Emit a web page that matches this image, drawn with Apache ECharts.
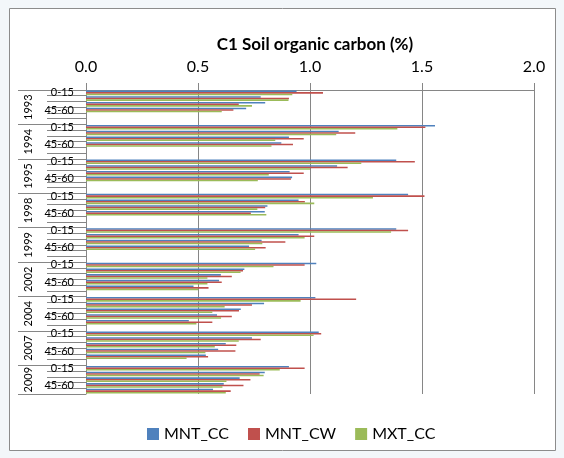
<!DOCTYPE html>
<html>
<head>
<meta charset="utf-8">
<script src="https://cdn.jsdelivr.net/npm/echarts@6/dist/echarts.min.js"></script>
<style>
  html, body { margin: 0; padding: 0; background: #f3f7fa; }
  #chart { width: 564px; height: 458px; }
</style>
</head>
<body>
<div id="chart"></div>
<script>
// Sampling years and soil depth layers (cm)
const years = ['1993', '1994', '1995', '1998', '1999', '2002', '2004', '2007', '2009'];
const depths = ['0-15', '15-30', '30-45', '45-60', '60-75'];

// Soil organic carbon (%) per year, one value per depth layer
const mntCC = [
  [0.94, 0.78, 0.80, 0.715, null],
  [1.558, 1.128, 0.906, 0.872, null],
  [1.385, 1.121, 0.909, 0.92, null],
  [1.438, 0.949, 0.81, 0.798, null],
  [1.385, 0.949, 0.784, 0.728, null],
  [1.028, 0.707, 0.602, 0.594, 0.48],
  [1.024, 0.795, 0.691, 0.585, 0.459],
  [1.039, 0.741, 0.624, 0.59, 0.535],
  [0.906, 0.798, 0.686, 0.615, 0.567]
];
const mntCW = [
  [1.058, 0.906, 0.682, 0.658, null],
  [1.515, 1.202, 0.972, 0.924, null],
  [1.468, 1.168, 0.972, 0.915, null],
  [1.511, 0.977, 0.80, 0.736, null],
  [1.438, 1.019, 0.89, 0.802, null],
  [0.976, 0.701, 0.651, 0.606, 0.547],
  [1.206, 0.741, 0.683, 0.651, 0.564],
  [1.05, 0.78, 0.671, 0.667, 0.545],
  [0.976, 0.775, 0.734, 0.703, 0.646]
];
const mxtCC = [
  [0.921, 0.904, 0.741, 0.606, null],
  [1.39, 1.117, 0.845, 0.828, null],
  [1.229, 1.0, 0.816, 0.767, null],
  [1.281, 1.019, 0.765, 0.805, null],
  [1.362, 0.976, 0.787, 0.755, null],
  [0.837, 0.69, 0.542, 0.542, 0.501],
  [0.958, 0.619, 0.564, 0.603, 0.493],
  [1.016, 0.682, 0.575, 0.533, 0.449],
  [0.865, 0.793, 0.627, 0.609, 0.624]
];
const xTicks = [0, 0.5, 1.0, 1.5, 2.0];

const seriesNames = ['MNT_CC', 'MNT_CW', 'MXT_CC'];
const seriesColors = ['#4F81BD', '#C0504D', '#9BBB59'];

// Flatten year/depth into one category list, with a blank spacer row between years
const categories = [];
const groupStarts = [];
const groupSizes = [];
years.forEach(function (y, i) {
  groupStarts.push(categories.length);
  depths.forEach(function (d) { categories.push(d); });
  if (i < years.length - 1) categories.push('');
  groupSizes.push(categories.length - groupStarts[i]);
});
const total = categories.length;

function flatten(byYear) {
  const out = [];
  byYear.forEach(function (vals, i) {
    vals.forEach(function (v) { out.push(v); });
    if (i < years.length - 1) out.push(null);
  });
  return out;
}

// Year-level boundaries and label centres on a companion value axis
const yearTicks = groupStarts.concat([total]);
const yearCentres = groupStarts.map(function (s, i) { return s + groupSizes[i] / 2; });
const yearAt = {};
yearCentres.forEach(function (c, i) { yearAt[c] = years[i]; });

const gray = '#868686';
const font = 'Lato, "Liberation Sans", sans-serif';

const chart = echarts.init(document.getElementById('chart'), null, { renderer: 'canvas' });
chart.setOption({
  backgroundColor: '#f3f7fa',
  textStyle: { fontFamily: font },
  graphic: [{
    type: 'rect',
    shape: { x: 9.5, y: 8.5, width: 546, height: 442 },
    style: { fill: '#ffffff', stroke: '#8c8c8c', lineWidth: 1 },
    z: -10, silent: true
  }],
  title: {
    text: 'C1 Soil organic carbon (%)',
    left: 310, textAlign: 'center', top: 31,
    textStyle: { fontFamily: font, fontSize: 17, fontWeight: 'bold', color: '#000' }
  },
  legend: {
    data: seriesNames,
    top: 421, left: 142,
    itemWidth: 12, itemHeight: 12, itemGap: 19,
    icon: 'rect',
    textStyle: { fontFamily: font, fontSize: 16, color: '#000' }
  },
  grid: { left: 86, right: 30, top: 90, bottom: 64, containLabel: false },
  xAxis: {
    type: 'value', position: 'top',
    min: xTicks[0], max: xTicks[xTicks.length - 1], interval: 0.5,
    axisLine: { show: true, lineStyle: { color: gray } },
    axisTick: { show: true, length: 7, lineStyle: { color: gray } },
    splitLine: { show: true, lineStyle: { color: gray, width: 1 } },
    axisLabel: {
      margin: 15, fontSize: 16, color: '#000', fontFamily: font,
      formatter: function (v) { return v.toFixed(1); }
    }
  },
  yAxis: [{
    type: 'category', inverse: true, data: categories,
    axisLine: { show: true, lineStyle: { color: gray } },
    axisTick: { show: true, interval: 0, length: 39, lineStyle: { color: gray } },
    axisLabel: { interval: 2, fontSize: 11, margin: 12, color: '#000', fontFamily: font },
    splitLine: { show: false }
  }, {
    type: 'value', inverse: true, min: 0, max: total, position: 'left',
    axisLine: { show: false },
    splitLine: { show: false },
    axisTick: { show: true, length: 68, customValues: yearTicks, lineStyle: { color: gray } },
    axisLabel: {
      show: true, customValues: yearCentres, rotate: 90, margin: 52,
      fontSize: 11, color: '#000', fontFamily: font,
      formatter: function (v) { return yearAt[v] || ''; }
    }
  }],
  series: [mntCC, mntCW, mxtCC].map(function (vals, i) {
    return {
      name: seriesNames[i], type: 'bar', yAxisIndex: 0,
      data: flatten(vals),
      itemStyle: { color: seriesColors[i] },
      barGap: '0%', barCategoryGap: '20%',
      animation: false
    };
  })
});
</script>
</body>
</html>
